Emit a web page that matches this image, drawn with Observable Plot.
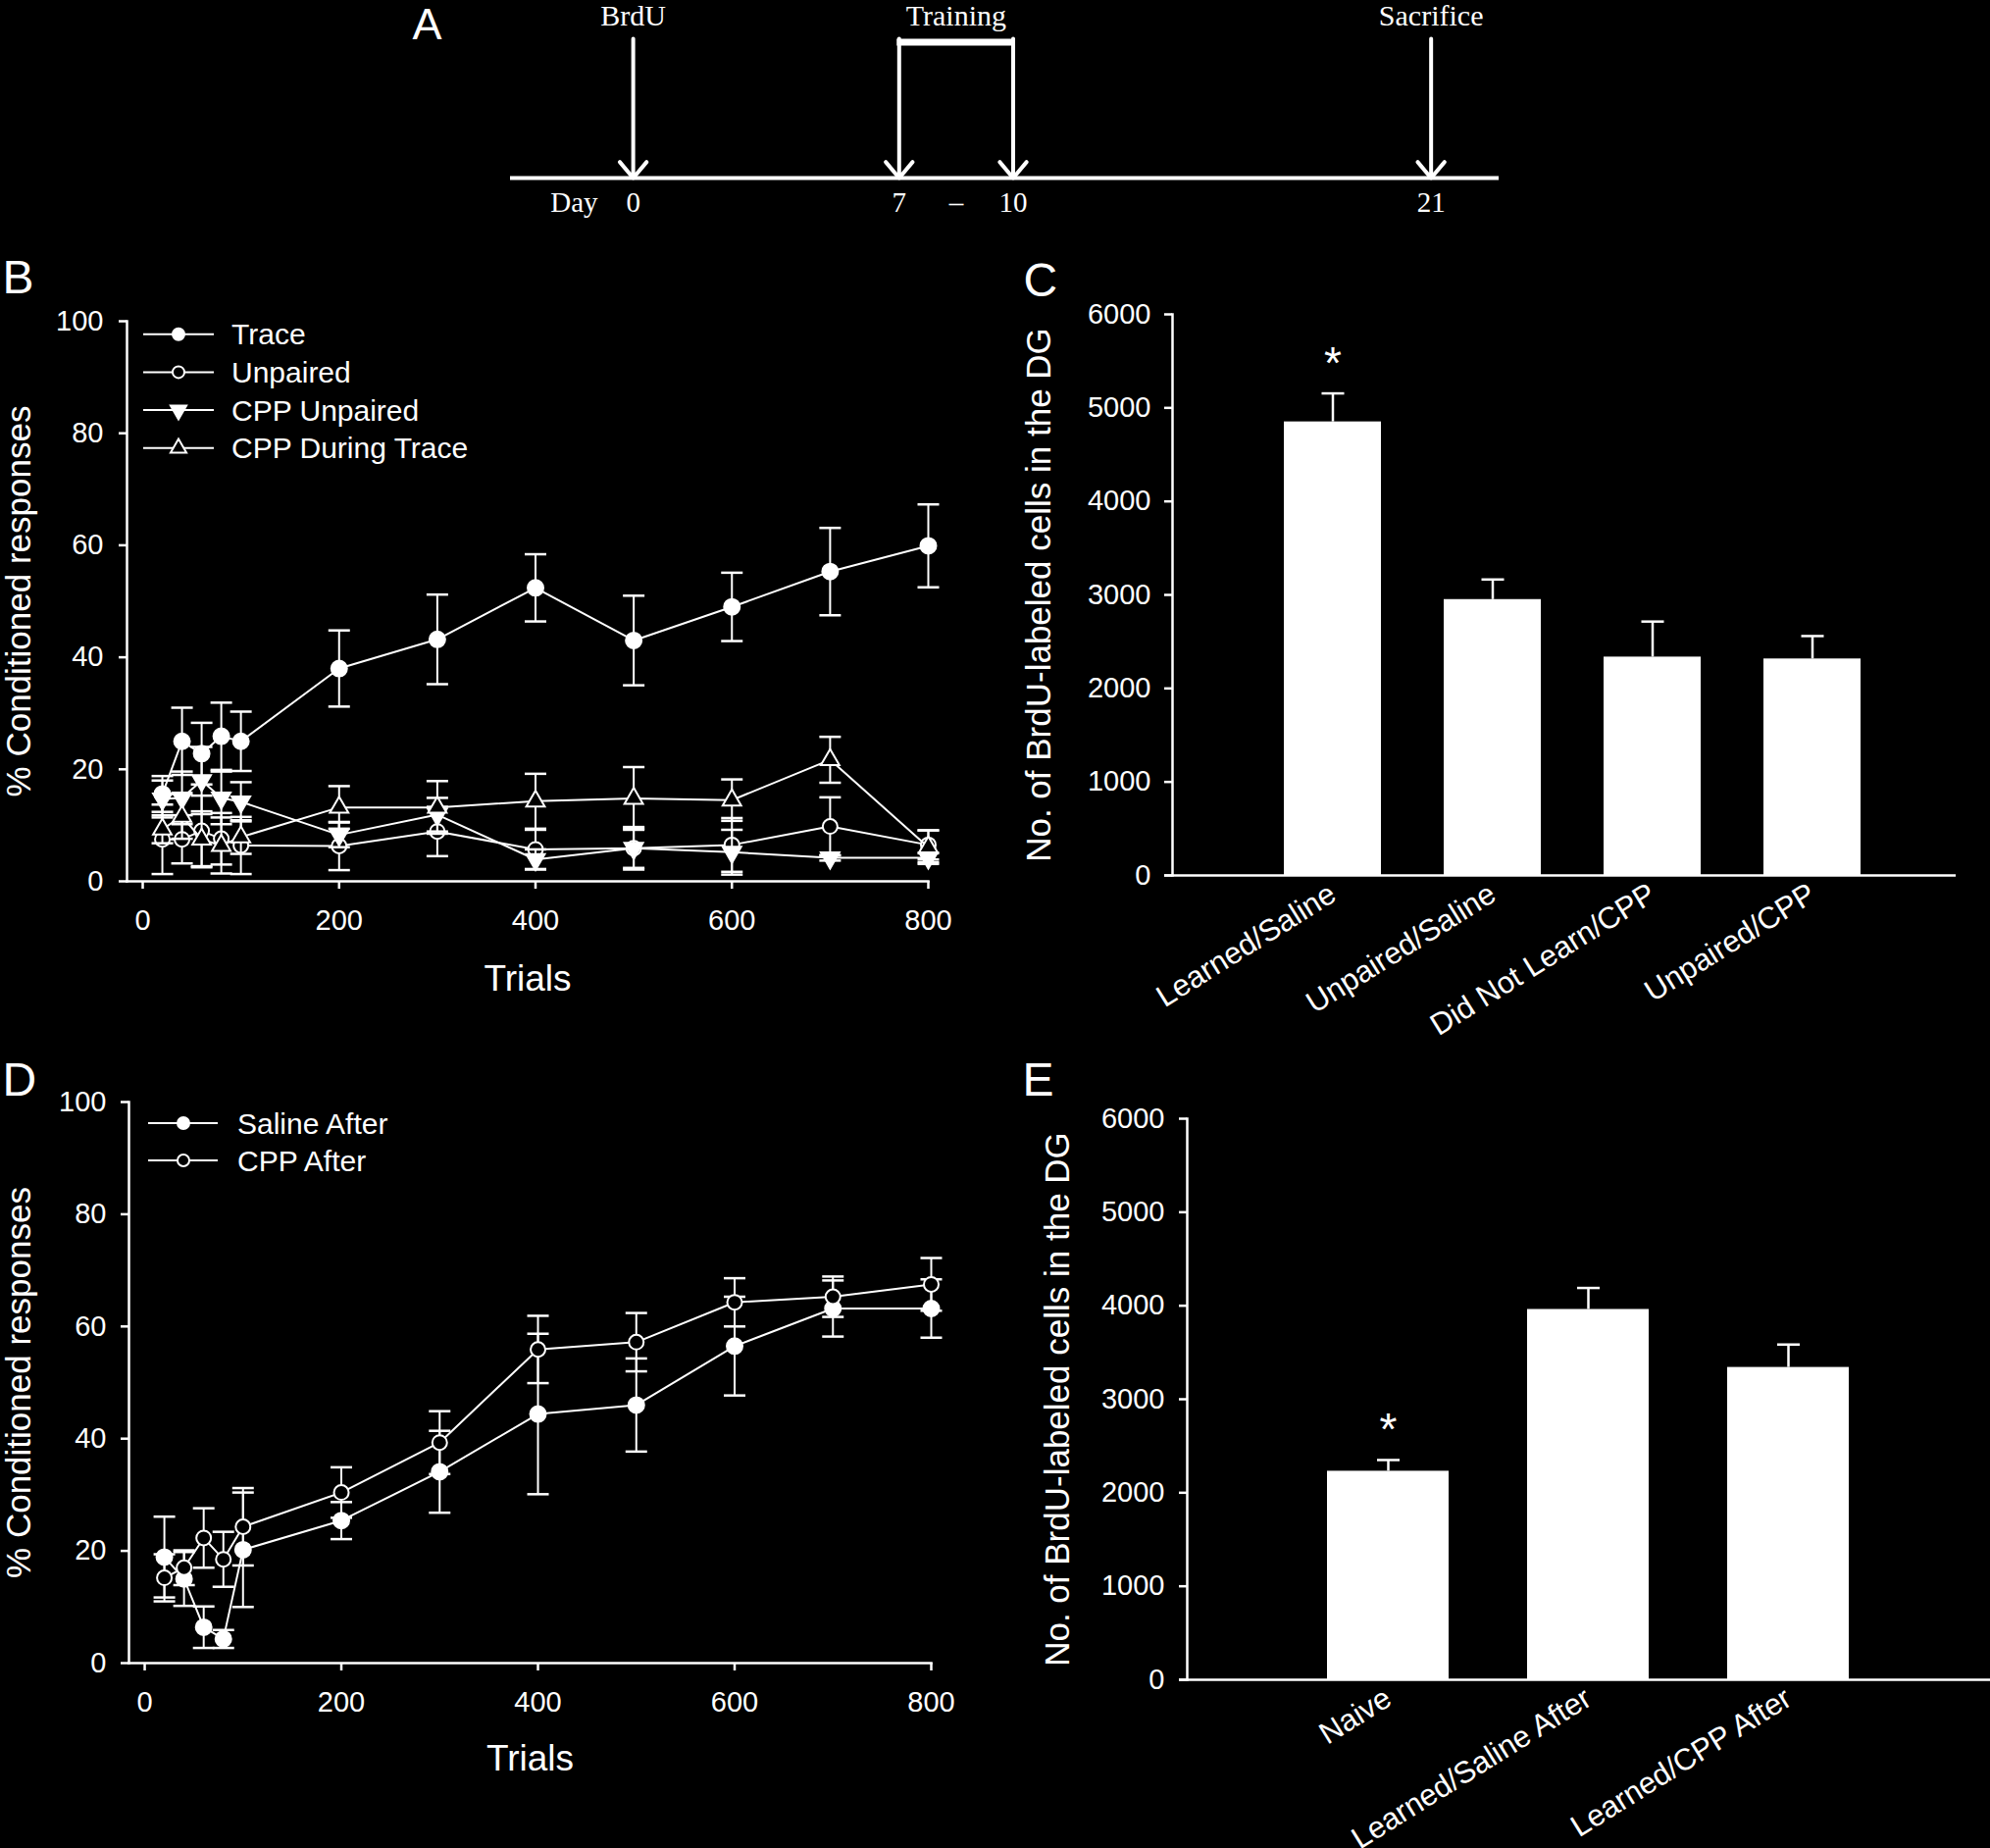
<!DOCTYPE html>
<html>
<head>
<meta charset="utf-8">
<script src="https://cdn.jsdelivr.net/npm/d3@7"></script>
<script src="https://cdn.jsdelivr.net/npm/@observablehq/plot@0.6"></script>
<style>
html, body { margin: 0; padding: 0; background: #000; }
#fig { position: relative; width: 2029px; height: 1884px; background: #000; overflow: hidden; }
</style>
</head>
<body>
<div id="fig"></div>
<script>
// ---------------- DATA ----------------
// Panel A: experimental timeline (days)
const eventNames = ["BrdU", "Training", "Sacrifice"];
const eventStartDay = [0, 7, 21];
const eventEndDay = [0, 10, 21];
const dayTickValues = [0, 7, 10, 21];
const timelineStartDay = -3.23;
const timelineEndDay = 22.79;

// Panel B: % conditioned responses vs trials
const trialsB = [20, 40, 60, 80, 100, 200, 300, 400, 500, 600, 700, 800];
const seriesNamesB = ["Trace", "Unpaired", "CPP Unpaired", "CPP During Trace"];
const traceMean = [15.6, 25.0, 22.8, 25.9, 25.0, 38.0, 43.2, 52.4, 43.0, 49.0, 55.3, 59.9];
const traceErr = [3.2, 6.0, 5.5, 6.0, 5.3, 6.8, 8.0, 6.0, 8.0, 6.1, 7.8, 7.4];
const unpairedMean = [7.5, 7.5, 9.0, 7.6, 6.4, 6.3, 8.9, 5.7, 5.9, 6.5, 9.8, 6.5];
const unpairedErr = [6.2, 4.3, 6.3, 4.6, 5.1, 4.3, 4.4, 3.5, 3.8, 4.8, 5.2, 2.6];
const cppUnpairedMean = [14.7, 14.9, 18.0, 14.9, 14.2, 8.3, 11.9, 3.9, 5.9, 5.2, 4.2, 4.2];
const cppUnpairedErr = [3.3, 4.7, 6.0, 4.7, 3.5, 2.2, 3.0, 1.8, 3.5, 4.0, 0.5, 0.8];
const cppTraceMean = [9.3, 11.6, 7.5, 6.4, 7.9, 13.2, 13.2, 14.3, 14.8, 14.5, 21.7, 6.1];
const cppTraceErr = [2.5, 4.0, 5.0, 5.0, 3.0, 3.8, 4.7, 4.9, 5.6, 3.7, 4.1, 3.0];

// Panel C: BrdU-labeled cells
const groupsC = ["Learned/Saline", "Unpaired/Saline", "Did Not Learn/CPP", "Unpaired/CPP"];
const meanC = [4850, 2950, 2335, 2315];
const errC = [305, 215, 380, 245];
const sigC = ["*", "", "", ""];

// Panel D: % conditioned responses vs trials
const trialsD = [20, 40, 60, 80, 100, 200, 300, 400, 500, 600, 700, 800];
const seriesNamesD = ["Saline After", "CPP After"];
const salineMean = [18.9, 15.0, 6.4, 4.3, 20.2, 25.4, 34.1, 44.4, 46.0, 56.5, 63.2, 63.2];
const salineErr = [7.2, 4.8, 3.7, 1.6, 10.2, 3.3, 7.3, 14.3, 8.3, 8.8, 5.0, 5.2];
const cppAfterMean = [15.2, 17.0, 22.3, 18.5, 24.3, 30.4, 39.3, 55.9, 57.2, 64.3, 65.3, 67.5];
const cppAfterErr = [4.2, 3.1, 5.3, 4.9, 6.9, 4.5, 5.6, 6.0, 5.2, 4.3, 3.6, 4.7];

// Panel E: BrdU-labeled cells
const groupsE = ["Naive", "Learned/Saline After", "Learned/CPP After"];
const meanE = [2230, 3960, 3340];
const errE = [120, 230, 245];
const sigE = ["*", "", ""];

const trialTicks = [0, 200, 400, 600, 800];
const pctTicks = [0, 20, 40, 60, 80, 100];
const cellTicks = [0, 1000, 2000, 3000, 4000, 5000, 6000];

// ---------------- STYLE HELPERS ----------------
const white = "#ffffff";
const sans = "'Liberation Sans', Arial, Helvetica, sans-serif";
const serif = "'Liberation Serif', 'Times New Roman', Times, serif";
const fig = document.getElementById("fig");
const TICK_FONT = 29;

const S3 = Math.sqrt(3);
const triangleDown = {
  draw(ctx, size) {
    const y = -Math.sqrt(size / (S3 * 3));
    ctx.moveTo(0, -2 * y);
    ctx.lineTo(-S3 * y, y);
    ctx.lineTo(S3 * y, y);
    ctx.closePath();
  }
};
const capBar = {
  draw(ctx, size) {
    const r = Math.sqrt(size / Math.PI);
    ctx.moveTo(-r, 0);
    ctx.lineTo(r, 0);
  }
};
function symbolOf(name) {
  return name === "circle" ? d3.symbolCircle : name === "triangle" ? d3.symbolTriangle : triangleDown;
}

function mount(svg, left, top) {
  svg.style.position = "absolute";
  svg.style.left = left + "px";
  svg.style.top = top + "px";
  svg.style.maxWidth = "none";
  svg.style.overflow = "visible";
  fig.appendChild(svg);
  return svg;
}

const baseStyle = {background: "#000", color: white, fontFamily: sans, fontSize: "27px"};

// ---------------- PANEL A ----------------
(function () {
  const events = eventNames.map((n, i) => ({name: n, start: eventStartDay[i], end: eventEndDay[i]}));
  const spans = events.filter(e => e.start !== e.end);
  const arrowDays = events.flatMap(e => e.start === e.end ? [e.start] : [e.start, e.end]);
  const svg = Plot.plot({
    width: 2029, height: 250, margin: 0,
    style: baseStyle,
    x: {domain: [timelineStartDay, timelineEndDay], range: [520, 1528], axis: null},
    y: {domain: [0, 1], range: [181, 39], axis: null},
    marks: [
      Plot.ruleY([0], {x1: timelineStartDay, x2: timelineEndDay, stroke: white, strokeWidth: 4}),
      Plot.ruleY(spans, {y: 1, x1: "start", x2: "end", dy: 3.5, stroke: white, strokeWidth: 7, insetLeft: -2, insetRight: -2}),
      Plot.arrow(arrowDays, {x1: d => d, x2: d => d, y1: 1, y2: 0, stroke: white, strokeWidth: 4, headLength: 8, headAngle: 80}),
      Plot.text(events, {x: d => (d.start + d.end) / 2, y: 1, dy: -23, text: "name", fill: white, fontSize: 30, fontFamily: serif}),
      Plot.text(dayTickValues, {x: d => d, y: 0, dy: 25, text: d => String(d), fill: white, fontSize: 29, fontFamily: serif}),
      Plot.text(spans, {x: d => (d.start + d.end) / 2, y: 0, dy: 25, text: () => "–", fill: white, fontSize: 29, fontFamily: serif}),
      Plot.text(["Day"], {x: () => dayTickValues[0], y: 0, dy: 25, dx: -36, textAnchor: "end", text: d => d, fill: white, fontSize: 29, fontFamily: serif}),
      Plot.text(["A"], {frameAnchor: "top-left", dx: 420, dy: 25, textAnchor: "start", lineAnchor: "middle", text: d => d, fill: white, fontSize: 45, fontFamily: sans})
    ]
  });
  mount(svg, 0, 0);
})();

// ---------------- LINE PANELS ----------------
function seriesMarks(rows, spec) {
  const sym = spec.symbol === "circle" ? {r: spec.filled ? 8 : 7.5} : {symbol: spec.symbol === "triangle" ? "triangle" : triangleDown, r: 7};
  return [
    Plot.line(rows, {x: "trial", y: "mean", stroke: white, strokeWidth: 2}),
    Plot.ruleX(rows, {x: "trial", y1: d => d.mean - d.err, y2: d => d.mean + d.err, stroke: white, strokeWidth: 2}),
    Plot.dot(rows, {x: "trial", y: d => d.mean + d.err, symbol: capBar, r: 11, stroke: white, strokeWidth: 2.5, fill: "none"}),
    Plot.dot(rows, {x: "trial", y: d => d.mean - d.err, symbol: capBar, r: 11, stroke: white, strokeWidth: 2.5, fill: "none"}),
    Plot.dot(rows, {x: "trial", y: "mean", ...sym, fill: spec.filled ? white : "#000", stroke: white, strokeWidth: 2})
  ];
}

function linePanel(cfg) {
  const marks = [
    Plot.frame({anchor: "left", stroke: white, strokeWidth: 2.5}),
    Plot.frame({anchor: "bottom", stroke: white, strokeWidth: 2.5}),
    Plot.axisY({ticks: pctTicks, tickFormat: d => String(d), tickSize: 8, tickPadding: cfg.yPad, fontSize: TICK_FONT, stroke: white, strokeWidth: 2.5, label: null}),
    Plot.axisX({ticks: trialTicks, tickFormat: d => String(d), tickSize: 8, tickPadding: 21, fontSize: TICK_FONT, stroke: white, strokeWidth: 2.5, label: null}),
    Plot.text(["% Conditioned responses"], {frameAnchor: "left", dx: cfg.yTitleDx, rotate: -90, textAnchor: "middle", lineAnchor: "middle", text: d => d, fill: white, fontSize: 35}),
    Plot.text(["Trials"], {frameAnchor: "bottom", dy: cfg.xTitleDy, textAnchor: "middle", lineAnchor: "middle", text: d => d, fill: white, fontSize: 37}),
    Plot.text([cfg.letter], {frameAnchor: "top-left", dx: cfg.letterDx, dy: cfg.letterDy, textAnchor: "start", lineAnchor: "middle", text: d => d, fill: white, fontSize: 48}),
    ...cfg.series.flatMap(s => seriesMarks(s.rows, s))
  ];
  const svg = Plot.plot({
    width: cfg.width, height: cfg.height,
    marginLeft: cfg.ml, marginRight: cfg.mr, marginTop: cfg.mt, marginBottom: cfg.mb,
    style: baseStyle,
    x: {domain: [-16, 800]},
    y: {domain: [0, 100]},
    marks
  });
  // legend
  const lg = cfg.legend;
  const g = d3.select(svg).append("g");
  cfg.series.forEach((s, i) => {
    const y = lg.y0 + i * lg.dy;
    g.append("line").attr("x1", lg.x1).attr("x2", lg.x2).attr("y1", y).attr("y2", y)
      .attr("stroke", white).attr("stroke-width", 2);
    g.append("path").attr("d", d3.symbol(symbolOf(s.symbol), Math.PI * lg.r * lg.r)())
      .attr("transform", `translate(${lg.mx},${y})`)
      .attr("fill", s.filled ? white : "#000").attr("stroke", white).attr("stroke-width", 2);
    g.append("text").attr("x", lg.tx).attr("y", y).attr("dy", "0.35em")
      .attr("text-anchor", "start")
      .attr("fill", white).attr("font-size", 30).attr("font-family", sans).text(s.name);
  });
  mount(svg, cfg.left, cfg.top);
}

function rowsOf(trials, mean, err) {
  return trials.map((t, i) => ({trial: t, mean: mean[i], err: err[i]}));
}

linePanel({
  left: 0, top: 250, width: 990, height: 810, ml: 129, mr: 44, mt: 77, mb: 162,
  yPad: 16, yTitleDx: -110, xTitleDy: 100, letter: "B", letterDx: -127, letterDy: -44,
  legend: {y0: 90.7, dy: 38.7, x1: 146, x2: 218, mx: 182, tx: 236, r: 6},
  series: [
    {name: seriesNamesB[0], symbol: "circle", filled: true, rows: rowsOf(trialsB, traceMean, traceErr)},
    {name: seriesNamesB[1], symbol: "circle", filled: false, rows: rowsOf(trialsB, unpairedMean, unpairedErr)},
    {name: seriesNamesB[2], symbol: "triangleDown", filled: true, rows: rowsOf(trialsB, cppUnpairedMean, cppUnpairedErr)},
    {name: seriesNamesB[3], symbol: "triangle", filled: false, rows: rowsOf(trialsB, cppTraceMean, cppTraceErr)}
  ]
});

linePanel({
  left: 0, top: 1070, width: 990, height: 810, ml: 131, mr: 41, mt: 53, mb: 185,
  yPad: 15, yTitleDx: -112, xTitleDy: 98, letter: "D", letterDx: -129, letterDy: -22,
  legend: {y0: 75, dy: 38, x1: 151, x2: 222, mx: 187, tx: 242, r: 6},
  series: [
    {name: seriesNamesD[0], symbol: "circle", filled: true, rows: rowsOf(trialsD, salineMean, salineErr)},
    {name: seriesNamesD[1], symbol: "circle", filled: false, rows: rowsOf(trialsD, cppAfterMean, cppAfterErr)}
  ]
});

// ---------------- BAR PANELS ----------------
function barPanel(cfg) {
  const rows = cfg.groups.map((g, i) => ({group: g, mean: cfg.mean[i], err: cfg.err[i], sig: cfg.sig[i]}));
  const svg = Plot.plot({
    width: cfg.width, height: cfg.height,
    marginLeft: cfg.ml, marginRight: cfg.mr, marginTop: cfg.mt, marginBottom: cfg.mb,
    style: baseStyle,
    x: {type: "band", domain: cfg.groups, paddingInner: cfg.pi, paddingOuter: cfg.po, align: cfg.align},
    y: {domain: [0, 6000]},
    marks: [
      Plot.barY(rows, {x: "group", y: "mean", fill: white}),
      Plot.ruleX(rows, {x: "group", y1: "mean", y2: d => d.mean + d.err, stroke: white, strokeWidth: 2.5}),
      Plot.dot(rows, {x: "group", y: d => d.mean + d.err, symbol: capBar, r: 11.5, stroke: white, strokeWidth: 2.5, fill: "none"}),
      Plot.text(rows.filter(d => d.sig), {x: "group", y: d => d.mean + d.err, text: "sig", dy: -30, fill: white, fontSize: 46}),
      Plot.frame({anchor: "left", stroke: white, strokeWidth: 2.5}),
      Plot.ruleY([0], {stroke: white, strokeWidth: 2.5, insetLeft: -8}),
      Plot.axisY({ticks: cellTicks, tickFormat: d => String(d), tickSize: 8, tickPadding: cfg.yPad, fontSize: TICK_FONT, stroke: white, strokeWidth: 2.5, label: null}),
      Plot.axisX({tickSize: 0, tickRotate: -32, tickPadding: 16, fontSize: 31, label: null}),
      Plot.text(["No. of BrdU-labeled cells in the DG"], {frameAnchor: "left", dx: cfg.yTitleDx, rotate: -90, textAnchor: "middle", lineAnchor: "middle", text: d => d, fill: white, fontSize: 35}),
      Plot.text([cfg.letter], {frameAnchor: "top-left", dx: cfg.letterDx, dy: cfg.letterDy, textAnchor: "start", lineAnchor: "middle", text: d => d, fill: white, fontSize: 48})
    ]
  });
  mount(svg, cfg.left, cfg.top);
}

barPanel({
  left: 1000, top: 250, width: 1029, height: 810, ml: 195, mr: 35, mt: 70, mb: 168,
  groups: groupsC, mean: meanC, err: errC, sig: sigC,
  pi: 0.395, po: 0.64, align: 0.54, yPad: 14, yTitleDx: -136,
  letter: "C", letterDx: -152, letterDy: -34
});

barPanel({
  left: 1000, top: 1070, width: 1029, height: 814, ml: 210, mr: 0, mt: 70, mb: 172,
  groups: groupsE, mean: meanE, err: errE, sig: sigE,
  pi: 0.392, po: 0.70, align: 0.5, yPad: 15, yTitleDx: -132,
  letter: "E", letterDx: -168, letterDy: -39
});
</script>
</body>
</html>
